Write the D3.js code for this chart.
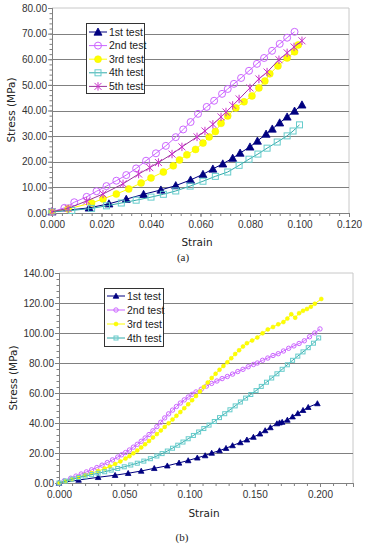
<!DOCTYPE html>
<html>
<head>
<meta charset="utf-8">
<script src="https://cdn.jsdelivr.net/npm/d3@7"></script>
<style>
  body { margin: 0; background: #fff; }
  svg { display: block; }
</style>
</head>
<body>
<script>
// ---- chart (a) data: [strain, stress]
var a1st = [[0,0.5],[0.015,2.0],[0.023,3.6],[0.030,5.4],[0.037,7.3],[0.044,9.0],[0.050,10.7],[0.056,12.9],[0.061,15.1],[0.065,17.2],[0.069,19.2],[0.073,21.4],[0.076,23.4],[0.080,25.8],[0.083,28.1],[0.0865,30.8],[0.089,32.8],[0.092,35.2],[0.095,37.5],[0.098,39.8],[0.101,42.2]];
var a2nd = [[0,0.5],[0.005,2.0],[0.009,4.2],[0.014,6.3],[0.018,8.5],[0.022,10.5],[0.026,12.6],[0.030,14.8],[0.034,17.4],[0.038,20.4],[0.042,23.3],[0.046,26.2],[0.050,29.6],[0.053,32.6],[0.056,35.5],[0.059,38.7],[0.0625,41.4],[0.0655,43.8],[0.0687,46.5],[0.071,48.4],[0.0735,50.4],[0.0764,52.7],[0.0796,55.5],[0.0828,58.2],[0.0857,60.5],[0.0889,63.3],[0.092,66.0],[0.095,68.4],[0.098,70.7]];
var a3rd = [[0,0.5],[0.0065,1.6],[0.016,3.9],[0.0206,5.5],[0.026,7.4],[0.031,9.4],[0.036,11.7],[0.040,13.7],[0.045,16.0],[0.049,18.4],[0.0515,20.7],[0.0545,22.7],[0.058,24.8],[0.061,27.3],[0.0635,29.7],[0.066,31.8],[0.0683,35.0],[0.071,37.9],[0.0743,41.0],[0.0776,43.4],[0.0808,45.7],[0.0836,48.8],[0.086,51.5],[0.088,54.3],[0.0913,57.4],[0.095,60.5],[0.098,62.9],[0.0995,65.6]];
var a4th = [[0,0.5],[0.008,1.0],[0.016,1.8],[0.022,2.8],[0.028,3.9],[0.034,5.0],[0.040,6.2],[0.045,7.3],[0.050,8.6],[0.0558,10.5],[0.061,12.4],[0.066,14.3],[0.071,16.0],[0.0756,18.6],[0.0796,21.0],[0.0832,23.0],[0.0869,25.3],[0.091,27.7],[0.095,30.1],[0.0974,32.0],[0.100,34.4]];
var a5th = [[0,0.5],[0.0065,1.8],[0.014,4.7],[0.0206,7.4],[0.0287,11.4],[0.035,15.2],[0.0395,17.7],[0.043,19.7],[0.0485,23.0],[0.0525,25.8],[0.0586,29.7],[0.0618,32.0],[0.065,34.6],[0.0683,37.5],[0.0703,39.4],[0.073,42.0],[0.0756,44.5],[0.080,48.8],[0.0836,52.3],[0.0869,55.0],[0.0917,59.8],[0.095,62.5],[0.0978,64.8],[0.101,67.2]];

// ---- chart (b) data
var b1st = [[0,0],[0.015,2.0],[0.030,3.8],[0.043,5.2],[0.053,6.5],[0.063,8.0],[0.073,9.8],[0.083,11.5],[0.092,13.4],[0.099,15.0],[0.106,16.8],[0.112,18.3],[0.117,20.0],[0.123,21.6],[0.128,23.2],[0.133,25.0],[0.139,27.0],[0.144,28.8],[0.149,30.6],[0.154,32.8],[0.158,35.0],[0.162,37.0],[0.167,39.6],[0.169,40.2],[0.171,40.6],[0.175,42.0],[0.179,44.2],[0.183,46.4],[0.187,48.5],[0.191,50.5],[0.198,53.0]];
var b2nd = [[0,0],[0.004,1.5],[0.009,3.2],[0.013,4.6],[0.017,6.0],[0.021,7.4],[0.025,8.8],[0.029,10.3],[0.033,11.9],[0.037,13.6],[0.041,15.4],[0.045,17.3],[0.048,18.8],[0.051,20.3],[0.054,22.0],[0.057,23.9],[0.060,25.8],[0.063,27.8],[0.066,30.0],[0.069,32.3],[0.072,34.8],[0.075,37.6],[0.078,40.5],[0.081,43.4],[0.084,46.1],[0.087,48.6],[0.090,51.0],[0.093,53.3],[0.096,55.4],[0.099,57.3],[0.102,59.1],[0.105,60.7],[0.109,62.5],[0.113,64.6],[0.117,66.4],[0.121,68.0],[0.125,69.6],[0.129,71.0],[0.133,72.6],[0.137,74.3],[0.141,75.8],[0.145,77.5],[0.149,79.0],[0.152,80.0],[0.156,81.8],[0.160,83.3],[0.164,85.0],[0.168,86.2],[0.172,88.0],[0.176,89.8],[0.180,91.4],[0.184,93.0],[0.188,94.8],[0.192,97.5],[0.196,100.0],[0.200,102.7]];
var b3rd = [[0,0],[0.005,1.2],[0.010,2.5],[0.015,3.8],[0.020,5.2],[0.025,6.6],[0.030,8.0],[0.035,9.6],[0.039,11.0],[0.043,12.6],[0.047,14.4],[0.051,16.3],[0.054,17.9],[0.057,19.8],[0.060,21.7],[0.063,23.7],[0.066,25.8],[0.069,28.0],[0.072,30.3],[0.075,32.6],[0.078,35.0],[0.081,37.4],[0.084,39.8],[0.087,42.3],[0.090,44.8],[0.093,47.3],[0.096,49.9],[0.099,52.5],[0.102,55.2],[0.105,58.0],[0.108,61.0],[0.111,64.0],[0.114,67.0],[0.117,70.0],[0.120,72.8],[0.123,75.5],[0.126,78.0],[0.129,80.5],[0.132,83.2],[0.135,86.0],[0.138,88.5],[0.141,91.0],[0.144,93.2],[0.148,95.0],[0.152,97.0],[0.156,99.8],[0.160,102.4],[0.164,104.0],[0.168,105.8],[0.172,107.3],[0.175,109.6],[0.178,112.5],[0.181,110.2],[0.184,113.2],[0.187,114.8],[0.190,116.0],[0.193,117.5],[0.196,119.5],[0.201,122.7]];
var b4th = [[0,0],[0.005,1.3],[0.010,2.6],[0.015,3.6],[0.020,4.6],[0.025,5.6],[0.030,6.5],[0.035,7.5],[0.040,8.6],[0.045,9.7],[0.050,10.8],[0.055,12.0],[0.060,13.2],[0.065,14.6],[0.070,16.2],[0.075,18.0],[0.079,19.6],[0.083,21.3],[0.087,23.2],[0.091,25.2],[0.095,27.3],[0.099,29.5],[0.103,31.7],[0.107,34.0],[0.111,36.3],[0.115,38.6],[0.119,41.0],[0.123,43.6],[0.127,46.2],[0.131,48.8],[0.135,51.4],[0.139,54.0],[0.143,56.6],[0.147,59.0],[0.151,61.6],[0.155,64.4],[0.159,67.2],[0.163,70.0],[0.167,72.8],[0.171,75.8],[0.175,78.8],[0.179,81.8],[0.183,84.6],[0.187,87.4],[0.191,90.2],[0.195,93.2],[0.199,96.7]];

var seriesNames = ["1st test", "2nd test", "3rd test", "4th test", "5th test"];
var yTicksA = [0, 10, 20, 30, 40, 50, 60, 70, 80];
var xTicksA = [0, 0.02, 0.04, 0.06, 0.08, 0.10, 0.12];
var yTicksB = [0, 20, 40, 60, 80, 100, 120, 140];
var xTicksB = [0, 0.05, 0.10, 0.15, 0.20];

// series styles
var styles = [
  {line: "#000080", shape: "tri", fill: "#000080", stroke: "#000080"},
  {line: "#cc66ff", shape: "circle", fill: "none", stroke: "#cc66ff"},
  {line: "#ffff00", shape: "dot", fill: "#ffff00", stroke: "#f2f200"},
  {line: "#33aaaa", shape: "square", fill: "none", stroke: "#66cccc"},
  {line: "#993399", shape: "star", fill: "none", stroke: "#cc33cc"}
];

var W = 366, H = 550;
var svg = d3.select("body").append("svg")
  .attr("width", W)
  .attr("height", H);

var drawMarker = function(g, shape, s, st){
  if (shape == "tri") {
    g.append("path").attr("d", "M0," + (-s) + "L" + s + "," + (s*0.8) + "L" + (-s) + "," + (s*0.8) + "Z")
      .attr("fill", st.fill).attr("stroke", st.stroke).attr("stroke-width", 0.8);
  } else if (shape == "circle") {
    g.append("circle").attr("r", s).attr("fill", "#fff").attr("fill-opacity", 0)
      .attr("stroke", st.stroke).attr("stroke-width", 1);
  } else if (shape == "dot") {
    g.append("circle").attr("r", s).attr("fill", st.fill).attr("stroke", st.stroke).attr("stroke-width", 0.5);
  } else if (shape == "square") {
    g.append("rect").attr("x", -s).attr("y", -s).attr("width", 2*s).attr("height", 2*s)
      .attr("fill", "none").attr("stroke", st.stroke).attr("stroke-width", 1);
  } else if (shape == "star") {
    g.append("path").attr("d", "M" + (-s) + "," + (-s) + "L" + s + "," + s + "M" + s + "," + (-s) + "L" + (-s) + "," + s + "M0," + (-s*1.2) + "L0," + (s*1.2))
      .attr("stroke", st.stroke).attr("stroke-width", 1).attr("fill", "none");
  }
}

var drawChart = function(c){
  var x = d3.scaleLinear().domain(c.xDomain).range([c.left, c.right]);
  var y = d3.scaleLinear().domain(c.yDomain).range([c.bottom, c.top]);
  var g = svg.append("g");

  // plot frame (top + right light gray)
  g.append("path")
    .attr("d", "M" + c.left + "," + c.top + "H" + c.right + "V" + c.bottom)
    .attr("fill", "none").attr("stroke", "#c8c8c8").attr("stroke-width", 1);

  // gridlines
  g.selectAll(".grid").data(c.yTicks.filter(function(d){ return d > 0 && d < c.yDomain[1]; }))
    .enter().append("line")
    .attr("x1", c.left).attr("x2", c.right)
    .attr("y1", function(d){ return Math.round(y(d)) + 0.5; })
    .attr("y2", function(d){ return Math.round(y(d)) + 0.5; })
    .attr("stroke", "#808080").attr("stroke-width", 1.2);

  // y axis
  var yAxis = d3.axisLeft(y).tickValues(c.yTicks).tickFormat(d3.format(".2f")).tickSize(4);
  var ya = g.append("g").attr("transform", "translate(" + c.left + ",0)").call(yAxis);
  var yMinor = d3.axisLeft(y).tickValues(d3.range(0, c.yDomain[1] + 0.001, c.yMinor)).tickFormat("").tickSize(2.5);
  g.append("g").attr("transform", "translate(" + c.left + ",0)").call(yMinor);

  // x axis
  var xAxis = d3.axisBottom(x).tickValues(c.xTicks).tickFormat(d3.format(".3f")).tickSize(4);
  var xa = g.append("g").attr("transform", "translate(0," + c.bottom + ")").call(xAxis);
  var xMinor = d3.axisBottom(x).tickValues(d3.range(0, c.xDomain[1] + 1e-9, c.xMinor)).tickFormat("").tickSize(3);
  g.append("g").attr("transform", "translate(0," + c.bottom + ")").call(xMinor);

  g.selectAll(".domain").attr("stroke", "#808080");
  g.selectAll(".tick line").attr("stroke", "#808080");
  ya.selectAll("text").attr("font-family", "Liberation Sans, Arial, sans-serif").attr("font-size", 10).attr("fill", "#333").attr("x", -5);
  xa.selectAll("text").attr("font-family", "Liberation Sans, Arial, sans-serif").attr("font-size", 10).attr("fill", "#333").attr("y", 8);

  // axis titles
  g.append("text").attr("x", c.xTitle[0]).attr("y", c.xTitle[1])
    .attr("text-anchor", "middle").attr("font-family", "DejaVu Sans, Verdana, sans-serif")
    .attr("font-size", 10.5).attr("fill", "#222").text("Strain");
  g.append("text").attr("transform", "translate(" + c.yTitle[0] + "," + c.yTitle[1] + ") rotate(-90)")
    .attr("text-anchor", "middle").attr("font-family", "DejaVu Sans, Verdana, sans-serif")
    .attr("font-size", 10.5).attr("fill", "#222").text("Stress (MPa)");
  g.append("text").attr("x", c.label[0]).attr("y", c.label[1])
    .attr("text-anchor", "middle").attr("font-family", "Liberation Serif, Times New Roman, serif")
    .attr("font-size", 11).attr("fill", "#222").text(c.labelText);

  // series
  var line = d3.line().x(function(d){ return x(d[0]); }).y(function(d){ return y(d[1]); });
  c.series.forEach(function(s, i){
    var st = styles[i];
    g.append("path").datum(s).attr("d", line)
      .attr("fill", "none").attr("stroke", st.line).attr("stroke-width", 1);
    s.forEach(function(p){
      var m = g.append("g").attr("transform", "translate(" + x(p[0]) + "," + y(p[1]) + ")");
      drawMarker(m, st.shape, c.mSize[i], st);
    });
  });

  // legend
  var L = c.legend;
  var lg = g.append("g");
  lg.append("rect").attr("x", L.x + 0.5).attr("y", L.y + 0.5).attr("width", L.w).attr("height", L.h)
    .attr("fill", "#fff").attr("stroke", "#333").attr("stroke-width", 1);
  c.series.forEach(function(s, i){
    var st = styles[i];
    var yy = L.y + L.first + i * L.step;
    lg.append("line").attr("x1", L.x + 3).attr("x2", L.x + 21).attr("y1", yy).attr("y2", yy)
      .attr("stroke", st.line).attr("stroke-width", 1);
    var m = lg.append("g").attr("transform", "translate(" + (L.x + 12) + "," + yy + ")");
    drawMarker(m, st.shape, c.mSize[i], st);
    lg.append("text").attr("x", L.x + 23).attr("y", yy + 3.5)
      .attr("font-family", "Liberation Sans, Arial, sans-serif").attr("font-size", L.font)
      .attr("fill", "#222").text(seriesNames[i]);
  });
}

drawChart({
  left: 52, right: 349, top: 8, bottom: 213,
  xDomain: [0, 0.12], yDomain: [0, 80],
  xTicks: xTicksA, yTicks: yTicksA, xMinor: 0.004, yMinor: 2,
  series: [a1st, a2nd, a3rd, a4th, a5th],
  mSize: [4, 3.5, 3.5, 3, 3.5],
  xTitle: [197, 246], yTitle: [15, 110], label: [183, 261], labelText: "(a)",
  legend: {x: 86, y: 23, w: 58, h: 70, first: 9, step: 13.6, font: 10.5}
});

drawChart({
  left: 59, right: 353, top: 273, bottom: 483,
  xDomain: [0, 0.2253], yDomain: [0, 140],
  xTicks: xTicksB, yTicks: yTicksB, xMinor: 0.01, yMinor: 4,
  series: [b1st, b2nd, b3rd, b4th],
  mSize: [2.8, 2.2, 2, 2],
  xTitle: [204, 517], yTitle: [17, 378], label: [182, 541], labelText: "(b)",
  legend: {x: 104, y: 288, w: 59, h: 58, first: 8, step: 14, font: 10.5}
});
</script>
</body>
</html>
